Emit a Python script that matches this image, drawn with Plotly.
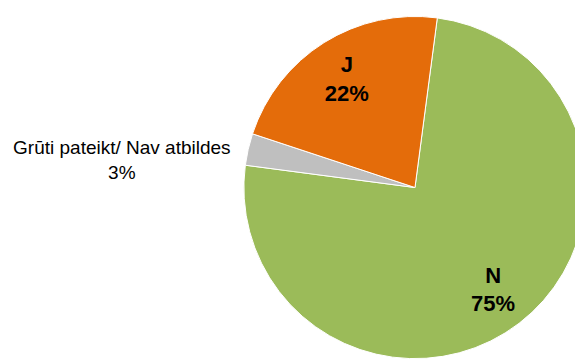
import plotly.graph_objects as go

labels = ["N", "Grūti pateikt/ Nav atbildes", "J"]
values = [75, 3, 22]
colors = ["#9BBB59", "#BFBFBF", "#E46C0A"]
positions = ["inside", "outside", "inside"]

W, H = 583, 360
# page body has an 8px margin, so the pie box is set 8px up/left
dom = dict(x=[230 / W, 580 / W], y=[8 / H, 358 / H])

# filled pie, no text
fig = go.Figure(go.Pie(
    labels=labels, values=values, sort=False,
    direction="clockwise", rotation=7.5,
    marker=dict(colors=colors, line=dict(color="white", width=1)),
    textinfo="none", domain=dom, showlegend=False, hoverinfo="skip",
))
# transparent ring on top just to push the inside labels outward
fig.add_trace(go.Pie(
    labels=labels, values=values, sort=False,
    direction="clockwise", rotation=7.5, hole=0.5,
    marker=dict(colors=["rgba(0,0,0,0)"] * 3, line=dict(width=0)),
    texttemplate=["<b>%{label}</b><br><b>%{percent:.0%}</b>",
                  "\u00a0<br>%{label}<br>%{percent:.0%}",
                  "<b>%{label}</b><br><b>%{percent:.0%}</b>"],
    textposition=positions,
    insidetextorientation="horizontal",
    insidetextfont=dict(family="Liberation Sans, Arial", size=22, color="black"),
    outsidetextfont=dict(family="Liberation Sans, Arial", size=19, color="black"),
    domain=dom, showlegend=False,
))
fig.update_layout(
    width=W, height=H,
    margin=dict(l=0, r=0, t=0, b=0),
    paper_bgcolor="white",
    plot_bgcolor="white",
)
fig.write_html("out.html")
